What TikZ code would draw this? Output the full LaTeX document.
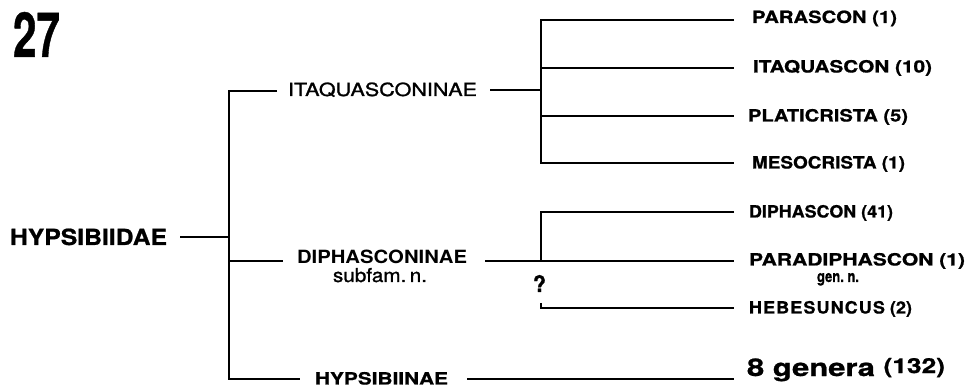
\documentclass[tikz,border=0pt]{standalone}
\usepackage{fontspec}
\setmainfont{TeX Gyre Heros}
\newfontfamily\medium{TeX Gyre Heros}[FakeBold=1.2]
\newfontfamily\heavy{TeX Gyre Heros}[BoldFeatures={FakeBold=0.8}]
\usepackage{graphicx}
\newcommand\fitbox[3]{\resizebox{#1pt}{#2pt}{#3}}
\begin{document}
\begin{tikzpicture}[x=1pt,y=-1pt,
  lbl/.style={anchor=base west, inner sep=0pt, outer sep=0pt},
  br/.style={line width=1.6pt, line cap=butt, line join=miter}]
\useasboundingbox (0,0) rectangle (969,387);

% labels
\node[lbl] (n27)  at (13,57)   {\fitbox{47}{45}{\heavy\bfseries 27}};
\node[lbl] (fam)  at (10,245)  {\fitbox{157}{16.5}{\heavy\bfseries HYPSIBIIDAE}};
\node[lbl] (itaq) at (288,96)  {\fitbox{189}{13.5}{\medium ITAQUASCONINAE}};
\node[lbl] (diph) at (297,264) {\fitbox{170}{13.5}{\bfseries DIPHASCONINAE}};
\node[lbl] (subf) at (333,282) {\fitbox{94}{14}{\medium subfam.\,n.}};
\node[lbl] (hyps) at (315,384.5) {\fitbox{133}{12.5}{\heavy\bfseries HYPSIBIINAE}};
\node[lbl] (qm)   at (533,292) {\fitbox{13}{17}{\heavy\bfseries ?}};

\node[lbl] (g1) at (752,23)  {\fitbox{145}{12.5}{\heavy\bfseries PARASCON (1)}};
\node[lbl] (g2) at (753,72.5)  {\fitbox{179}{12.5}{\heavy\bfseries ITAQUASCON (10)}};
\node[lbl] (g3) at (748,121.5) {\fitbox{160}{12.5}{\heavy\bfseries PLATICRISTA (5)}};
\node[lbl] (g4) at (752,168.5) {\fitbox{153}{12.5}{\heavy\bfseries MESOCRISTA (1)}};
\node[lbl] (g5) at (749,217.5) {\fitbox{144}{12.5}{\heavy\bfseries DIPHASCON (41)}};
\node[lbl] (g6) at (749,265.5) {\fitbox{216}{12.5}{\heavy\bfseries PARADIPHASCON (1)}};
\node[lbl] (gn) at (817,282) {\fitbox{42}{9}{\heavy\bfseries gen.\ n.}};
\node[lbl] (g7) at (749,313.5) {\fitbox{163}{12.5}{\heavy\bfseries H\kern.06em E\kern.06em B\kern.06em E\kern.06em S\kern.06em U\kern.06em N\kern.06em C\kern.06em U\kern.06em S (2)}};
\node[lbl] (g8) at (747,376) {\fitbox{198}{18}{\heavy\bfseries 8 genera \raisebox{0.12em}{\fontsize{8.5}{8.5}\selectfont(132)}}};

% junction and end coordinates
\coordinate (famR) at (180,237);
\coordinate (a0) at (229,237);
\coordinate (a1) at (229,91);
\coordinate (a2) at (229,261);
\coordinate (a3) at (229,379);
\coordinate (itaqL) at (277,91);
\coordinate (itaqR) at (490,90);
\coordinate (diphL) at (283,261);
\coordinate (diphR) at (485,261);
\coordinate (hypsL) at (300,379);
\coordinate (hypsR) at (467,379);
\coordinate (b1) at (541,20);
\coordinate (b2) at (541,68);
\coordinate (b0) at (541,90);
\coordinate (b3) at (541,116);
\coordinate (b4) at (541,163);
\coordinate (c1) at (541,212);
\coordinate (c2) at (541,261);
\coordinate (c3) at (541,303);
\coordinate (c3b) at (541,308);
\coordinate (e1) at (734,20);
\coordinate (e2) at (734,68);
\coordinate (e3) at (734,116);
\coordinate (e4) at (734,163);
\coordinate (e5) at (734,212);
\coordinate (e6) at (734,261);
\coordinate (e7) at (734,308);
\coordinate (e8) at (734,379);

% branches
\draw[br] (famR) -- (a0);
\draw[br] (itaqL) -- (a1) -- (a3) -- (hypsL);
\draw[br] (a2) -- (diphL);
\draw[br] (itaqR) -- (b0);
\draw[br] (e1) -- (b1) -- (b4) -- (e4);
\draw[br] (b2) -- (e2);
\draw[br] (b3) -- (e3);
\draw[br] (diphR) -- (e6);
\draw[br] (e5) -- (c1) -- (c2);
\draw[br] (c3) -- (c3b) -- (e7);
\draw[br] (hypsR) -- (e8);
\end{tikzpicture}
\end{document}
